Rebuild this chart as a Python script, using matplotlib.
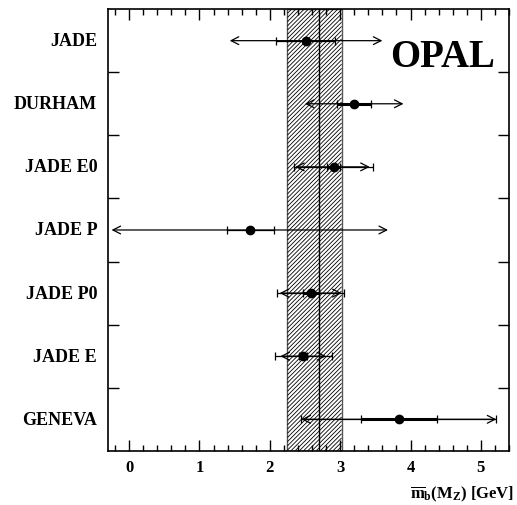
import numpy as np
import matplotlib
matplotlib.use("Agg")
import matplotlib.pyplot as plt
from matplotlib.ticker import MultipleLocator
from matplotlib.patches import Rectangle
from matplotlib.collections import LineCollection
from matplotlib.transforms import IdentityTransform

plt.rcParams['font.family'] = ['Liberation Serif', 'DejaVu Serif']
plt.rcParams['font.weight'] = 'bold'
plt.rcParams['mathtext.fontset'] = 'custom'
plt.rcParams['mathtext.rm'] = 'Liberation Serif:bold'
plt.rcParams['mathtext.bf'] = 'Liberation Serif:bold'
plt.rcParams['mathtext.it'] = 'Liberation Serif:bold'

# Data (top to bottom)
labels   = ["JADE", "DURHAM", "JADE E0", "JADE P", "JADE P0", "JADE E", "GENEVA"]
values   = [2.51, 3.20, 2.91, 1.72, 2.58, 2.47, 3.835]
stat_lo  = [np.nan, 2.95, 2.81, np.nan, 2.47, 2.41, 3.29]
stat_hi  = [np.nan, 3.44, 3.00, np.nan, 2.70, 2.53, 4.38]
sys_lo   = [2.09, np.nan, 2.34, 1.39, 2.10, 2.07, 2.45]
sys_hi   = [2.93, np.nan, 3.47, 2.06, 3.06, 2.88, 5.22]
arr_lo   = [1.43, 2.50, 2.36, -0.25, 2.14, 2.15, 2.45]
arr_hi   = [3.60, 3.90, 3.42, 3.68, 3.02, 2.80, 5.22]

band_lo, band_c, band_hi = 2.25, 2.70, 3.02

fig = plt.figure(figsize=(5.17, 5.06), dpi=100)
ax = fig.add_axes([0.209, 0.107, 0.7755, 0.873])

n = len(labels)
ys = [n - 0.5 - i for i in range(n)]

ax.set_xlim(-0.3, 5.4)
ax.set_ylim(0, n)

# band with diagonal hatching (lines computed in pixel space, clipped to the band)
band = Rectangle((band_lo, 0), band_hi - band_lo, n, facecolor='white',
                 edgecolor='#555555', linewidth=1.0, zorder=1)
ax.add_patch(band)
(dx0, dy0) = ax.transData.transform((band_lo, 0))
(dx1, dy1) = ax.transData.transform((band_hi, n))
h = dy1 - dy0
spacing = 4.2
segs = []
c = dx0 - h
while c < dx1:
    t_lo = max(0.0, dx0 - c)
    t_hi = min(h, dx1 - c)
    if t_lo < t_hi:
        segs.append([(c + t_lo, dy0 + t_lo), (c + t_hi, dy0 + t_hi)])
    c += spacing
hatch = LineCollection(segs, colors='black', linewidths=0.6, transform=IdentityTransform(),
                       zorder=1.5)
ax.add_collection(hatch, autolim=False)
ax.axvline(band_c, color='black', lw=1.0, zorder=2)

for i, y in enumerate(ys):
    # arrow bar
    ax.annotate('', xy=(arr_hi[i], y), xytext=(arr_lo[i], y),
                arrowprops=dict(arrowstyle='<->,head_length=0.55,head_width=0.28',
                                lw=0.9, color='black', shrinkA=0, shrinkB=0),
                zorder=3)
    # sys bar with tick ends
    if not np.isnan(sys_lo[i]):
        ax.errorbar([values[i]], [y], xerr=[[values[i] - sys_lo[i]], [sys_hi[i] - values[i]]],
                    fmt='none', ecolor='black', elinewidth=0.9, capsize=3, capthick=0.9,
                    zorder=4)
    # stat bar thick
    if not np.isnan(stat_lo[i]):
        ax.errorbar([values[i]], [y], xerr=[[values[i] - stat_lo[i]], [stat_hi[i] - values[i]]],
                    fmt='none', ecolor='black', elinewidth=2.2, capsize=3, capthick=0.9,
                    zorder=5)
    ax.plot([values[i]], [y], 'o', color='black', markersize=6, zorder=6)

ax.set_xlim(-0.3, 5.4)
ax.set_ylim(0, n)
ax.xaxis.set_major_locator(MultipleLocator(1))
ax.xaxis.set_minor_locator(MultipleLocator(0.2))
ax.set_yticks(range(1, n))
ax.set_yticklabels([])
ax.tick_params(axis='x', which='major', direction='in', length=8, width=1, top=True,
               labelsize=12, pad=6)
ax.tick_params(axis='x', which='minor', direction='in', length=4, width=1, top=True)
ax.tick_params(axis='y', which='major', direction='in', length=8, width=1, right=True)
for s in ax.spines.values():
    s.set_linewidth(1.2)
    s.set_zorder(10)

for lab, y in zip(labels, ys):
    ax.text(-0.027, y, lab, transform=ax.get_yaxis_transform(), ha='right', va='center',
            fontsize=13, fontweight='bold')

ax.text(0.965, 0.871, "OPAL", transform=ax.transAxes, ha='right', va='baseline',
        fontsize=28, fontweight='bold')

fig.text(0.994, 0.004, r'$\overline{\mathrm{m}}_{\mathrm{b}}(\mathrm{M}_{\mathrm{Z}})$ [GeV]',
         ha='right', va='bottom', fontsize=12, fontweight='bold')

fig.savefig("out.png", dpi=100)
